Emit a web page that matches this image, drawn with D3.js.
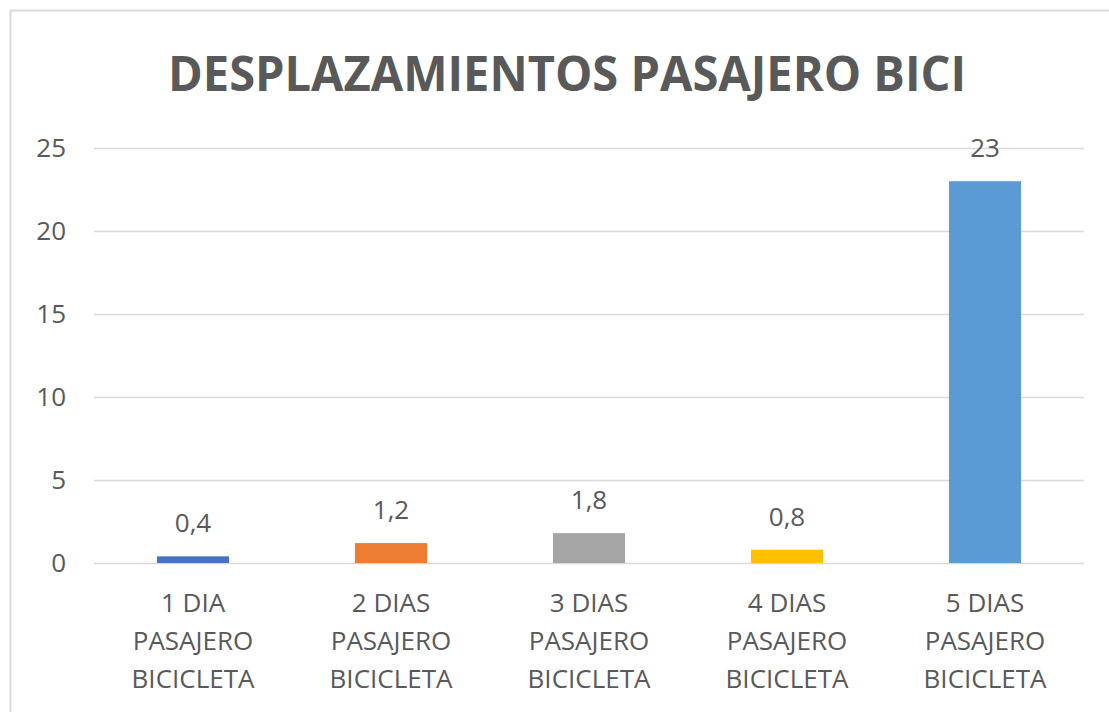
<!DOCTYPE html>
<html>
<head>
<meta charset="utf-8">
<script src="https://cdn.jsdelivr.net/npm/d3@7"></script>
<style>
  body { margin: 0; background: #fff; }
  svg text { font-family: "Open Sans", "Liberation Sans", sans-serif; fill: #595959; }
</style>
</head>
<body>
<svg id="chart"></svg>
<script>
const categories = [
  ["1 DIA", "PASAJERO", "BICICLETA"],
  ["2 DIAS", "PASAJERO", "BICICLETA"],
  ["3 DIAS", "PASAJERO", "BICICLETA"],
  ["4 DIAS", "PASAJERO", "BICICLETA"],
  ["5 DIAS", "PASAJERO", "BICICLETA"]
];
const values = [0.4, 1.2, 1.8, 0.8, 23];
const valueLabels = ["0,4", "1,2", "1,8", "0,8", "23"];
const barColors = ["#4472C4", "#ED7D31", "#A5A5A5", "#FFC000", "#5B9BD5"];
const yTicks = [0, 5, 10, 15, 20, 25];
const title = "DESPLAZAMIENTOS PASAJERO BICI";

const width = 1109, height = 712;
const margin = { left: 94, right: 24, top: 148, bottom: 149 };

const svg = d3.select("#chart").attr("width", width).attr("height", height);

// chart frame
svg.append("rect")
  .attr("x", 10.5).attr("y", 10.5)
  .attr("width", width).attr("height", height)
  .attr("fill", "none").attr("stroke", "#d9d9d9").attr("stroke-width", 2);

const x = d3.scaleBand()
  .domain(d3.range(categories.length))
  .range([margin.left, width - margin.right - 1])
  .paddingInner(0.636).paddingOuter(0.318);

const y = d3.scaleLinear()
  .domain([0, 25])
  .range([height - margin.bottom, margin.top]);

// title
svg.append("text")
  .attr("x", 567).attr("y", 91)
  .attr("text-anchor", "middle")
  .attr("textLength", 798).attr("lengthAdjust", "spacingAndGlyphs")
  .style("font-size", "48px").style("font-weight", "bold")
  .text(title);

// grid lines + y labels
const yAxis = svg.append("g")
  .attr("transform", "translate(" + margin.left + ",0)")
  .call(d3.axisLeft(y).tickValues(yTicks).tickSize(-(width - margin.right - margin.left - 1)).tickFormat(d => d));
yAxis.select(".domain").remove();
yAxis.selectAll(".tick line").attr("stroke", "#d9d9d9").attr("stroke-width", 1.3);
yAxis.selectAll(".tick text")
  .attr("x", -28)
  .style("font-size", "26px");

// bars
svg.selectAll("rect.bar")
  .data(values)
  .enter().append("rect")
  .attr("class", "bar")
  .attr("x", (d, i) => x(i))
  .attr("width", x.bandwidth())
  .attr("y", d => y(d))
  .attr("height", d => y(0) - y(d))
  .attr("fill", (d, i) => barColors[i]);

// value labels
svg.selectAll("text.val")
  .data(values)
  .enter().append("text")
  .attr("class", "val")
  .attr("x", (d, i) => x(i) + x.bandwidth() / 2)
  .attr("y", d => y(d) - 24)
  .attr("text-anchor", "middle")
  .style("font-size", "26px")
  .text((d, i) => valueLabels[i]);

// category labels
const cat = svg.selectAll("g.cat")
  .data(categories)
  .enter().append("g")
  .attr("class", "cat")
  .attr("transform", (d, i) => "translate(" + (x(i) + x.bandwidth() / 2) + "," + (y(0) + 49) + ")");
cat.selectAll("text")
  .data(d => d)
  .enter().append("text")
  .attr("y", (d, j) => j * 38)
  .attr("text-anchor", "middle")
  .style("font-size", "26px")
  .text(d => d);
</script>
</body>
</html>
